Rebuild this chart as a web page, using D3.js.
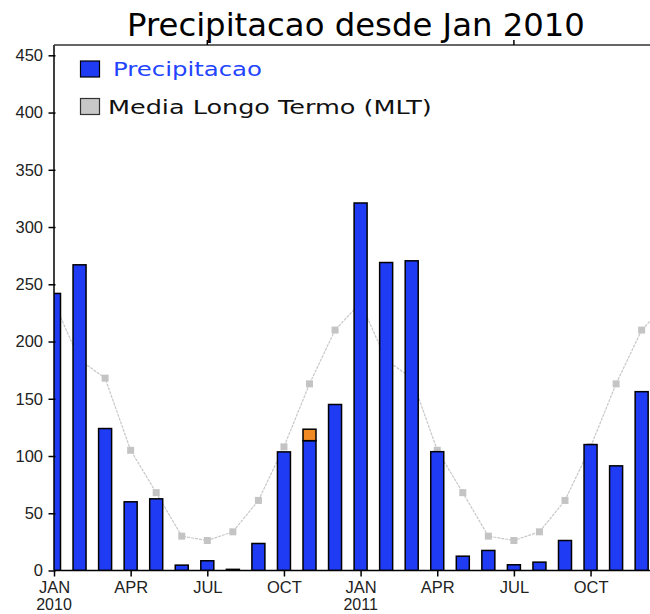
<!DOCTYPE html>
<html>
<head>
<meta charset="utf-8">
<script src="https://cdn.jsdelivr.net/npm/d3@7"></script>
<style>
  html, body { margin: 0; padding: 0; background: #fff; }
  svg { display: block; }
</style>
</head>
<body>
<svg id="chart" width="650" height="614"></svg>
<script>
// ---- data ----
const months = ["JAN","FEV","MAR","APR","MAI","JUN","JUL","AGO","SET","OCT","NOV","DEZ",
                "JAN","FEV","MAR","APR","MAI","JUN","JUL","AGO","SET","OCT","NOV","DEZ"];
const precip = [242, 267, 124, 60, 62.6, 4.7, 8.5, 1, 23.6, 103.6, 113.4, 145,
                321, 269, 270.5, 103.8, 12.5, 17.5, 5, 7.3, 26.2, 110, 91.4, 156.2];
const extra  = [0, 0, 0, 0, 0, 0, 0, 0, 0, 0, 10, 0,
                0, 0, 0, 0, 0, 0, 0, 0, 0, 0, 0, 0];
// MLT climatology, Jan 2010 .. Jan 2012
const mlt = [234, 184, 168, 105, 68, 30, 26.2, 33.8, 61.2, 108, 163, 210,
             234, 184, 168, 105, 68, 30, 26.2, 33.8, 61.2, 108, 163, 210,
             234];
const yTicks = [0, 50, 100, 150, 200, 250, 300, 350, 400, 450];
const xTickIdx = [0, 3, 6, 9, 12, 15, 18, 21];
const xTickLabels = ["JAN", "APR", "JUL", "OCT", "JAN", "APR", "JUL", "OCT"];
const yearLabels = [{i: 0, t: "2010"}, {i: 12, t: "2011"}];
const titleText = "Precipitacao desde Jan 2010";
const legendItems = ["Precipitacao", "Media Longo Termo (MLT)"];

// ---- layout ----
const svg = d3.select("#chart");
const pLeft = 54, pTop = 45, pBottom = 570.5, pRight = 54 + 24 * 25.55;
const x = d3.scaleLinear().domain([0, 24]).range([pLeft, pRight]);
const y = d3.scaleLinear().domain([0, 459]).range([pBottom, pTop]);
const barW = 13;

svg.append("defs").append("clipPath").attr("id", "plotclip")
  .append("rect").attr("x", pLeft).attr("y", pTop).attr("width", pRight - pLeft).attr("height", pBottom - pTop);

// place text at (x0,y0) and stretch horizontally to a target width
function fitScale(g, x0, y0, target) {
  const t = g.select("text");
  const len = t.node().getComputedTextLength();
  g.attr("transform", `translate(${x0},${y0}) scale(${(target / len).toFixed(4)},1)`);
}

// title
const titleG = svg.append("g");
titleG.append("text")
  .attr("font-family", "DejaVu Sans, sans-serif")
  .attr("font-size", 32)
  .attr("fill", "#000")
  .text(titleText);
fitScale(titleG, 127, 36, 458);

const plot = svg.append("g").attr("clip-path", "url(#plotclip)");

// MLT line + markers
plot.append("path")
  .datum(mlt)
  .attr("fill", "none")
  .attr("stroke", "#c8c8c8")
  .attr("stroke-width", 1.2)
  .attr("stroke-dasharray", "3,1")
  .attr("d", d3.line().x((d, i) => x(i)).y(d => y(d)));
plot.selectAll("rect.mlt").data(mlt).join("rect")
  .attr("class", "mlt")
  .attr("x", (d, i) => x(i) - 3.5).attr("y", d => y(d) - 3.5)
  .attr("width", 7).attr("height", 7)
  .attr("fill", "#c4c4c4");

// bars
plot.selectAll("rect.bar").data(precip).join("rect")
  .attr("class", "bar")
  .attr("x", (d, i) => x(i) - barW / 2)
  .attr("y", d => y(d))
  .attr("width", barW)
  .attr("height", d => y(0) - y(d))
  .attr("fill", "#1f3cf4")
  .attr("stroke", "#000")
  .attr("stroke-width", 1.5);
plot.selectAll("rect.extra").data(extra.map((e, i) => ({e, i})).filter(d => d.e > 0)).join("rect")
  .attr("class", "extra")
  .attr("x", d => x(d.i) - barW / 2)
  .attr("y", d => y(precip[d.i] + d.e))
  .attr("width", barW)
  .attr("height", d => y(precip[d.i]) - y(precip[d.i] + d.e))
  .attr("fill", "#f28a24")
  .attr("stroke", "#000")
  .attr("stroke-width", 1.5);

// frame / axes
svg.append("line").attr("x1", pLeft).attr("x2", pLeft).attr("y1", pTop).attr("y2", pBottom)
  .attr("stroke", "#000").attr("stroke-width", 1.5);
svg.append("line").attr("x1", pLeft).attr("x2", 650).attr("y1", pTop).attr("y2", pTop)
  .attr("stroke", "#333").attr("stroke-width", 1.3);
svg.append("line").attr("x1", pLeft).attr("x2", 650).attr("y1", pBottom).attr("y2", pBottom)
  .attr("stroke", "#000").attr("stroke-width", 1.5);

// top ticks (JUL)
[6, 18].forEach(i => {
  svg.append("line").attr("x1", x(i)).attr("x2", x(i)).attr("y1", pTop - 5).attr("y2", pTop)
    .attr("stroke", "#000").attr("stroke-width", 1.5);
});

// y axis
const yAxis = d3.axisLeft(y).tickValues(yTicks).tickSize(7).tickPadding(4).tickFormat(d3.format("d"));
const gy = svg.append("g").attr("transform", `translate(${pLeft + 1.5},0)`).call(yAxis);
gy.select(".domain").remove();
gy.selectAll(".tick line").attr("stroke", "#000").attr("stroke-width", 1.5);
gy.selectAll(".tick text")
  .attr("font-family", "Liberation Sans, Arial, sans-serif")
  .attr("font-size", 16.5)
  .attr("fill", "#222")
  .attr("x", -12.5);

// x axis
const xAxis = d3.axisBottom(x).tickValues(xTickIdx).tickSize(6).tickPadding(4)
  .tickFormat((d, k) => xTickLabels[k]);
const gx = svg.append("g").attr("transform", `translate(0,${pBottom})`).call(xAxis);
gx.select(".domain").remove();
gx.selectAll(".tick line").attr("stroke", "#000").attr("stroke-width", 1.5);
gx.selectAll(".tick text")
  .attr("font-family", "Liberation Sans, Arial, sans-serif")
  .attr("font-size", 16.5)
  .attr("fill", "#222")
  .attr("dy", null)
  .attr("y", 22.5);
svg.selectAll("text.year").data(yearLabels).join("text")
  .attr("class", "year")
  .attr("x", d => x(d.i)).attr("y", 610)
  .attr("text-anchor", "middle")
  .attr("font-family", "Liberation Sans, Arial, sans-serif")
  .attr("font-size", 16)
  .attr("fill", "#222")
  .text(d => d.t);

// legend
const lg = svg.append("g");
lg.append("rect").attr("x", 80.5).attr("y", 61).attr("width", 19).attr("height", 16)
  .attr("fill", "#1f3cf4").attr("stroke", "#000").attr("stroke-width", 1.2);
const l1 = lg.append("g");
l1.append("text")
  .attr("font-family", "DejaVu Sans, sans-serif").attr("font-size", 20)
  .attr("fill", "#2244ff").text(legendItems[0]);
fitScale(l1, 113, 76, 149);
lg.append("rect").attr("x", 80.5).attr("y", 98.5).attr("width", 19).attr("height", 16)
  .attr("fill", "#c8c8c8").attr("stroke", "#333").attr("stroke-width", 1.2);
const l2 = lg.append("g");
l2.append("text")
  .attr("font-family", "DejaVu Sans, sans-serif").attr("font-size", 19.5)
  .attr("fill", "#111").text(legendItems[1]);
fitScale(l2, 108, 114, 324);
</script>
</body>
</html>
